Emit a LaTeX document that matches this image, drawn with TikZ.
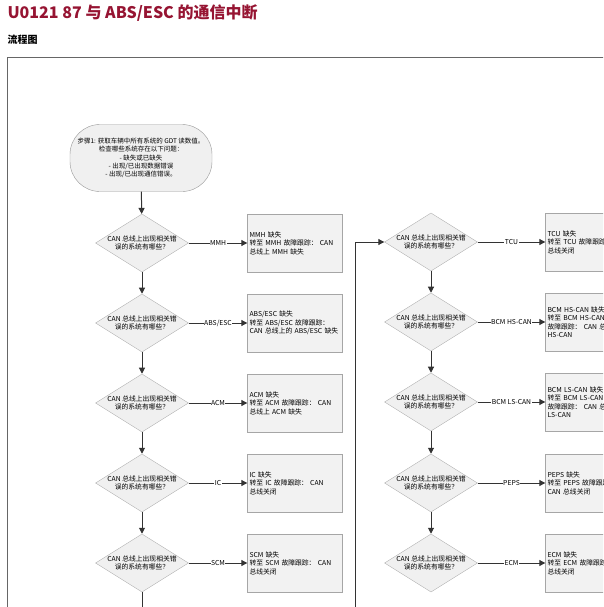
\documentclass[tikz,border=0pt]{standalone}
\usepackage{fontspec}
\setmainfont{Noto Sans CJK SC}
\usetikzlibrary{shapes.geometric,arrows.meta}
\definecolor{titlered}{RGB}{150,20,50}
\begin{document}
\begin{tikzpicture}[x=1pt,y=-1pt,
  dec/.style={diamond,draw=black!30,fill=black!6,minimum width=93pt,minimum height=58pt,inner sep=0pt,align=center,font=\fontsize{6.8}{8.5}\selectfont,aspect=1.6},
  res/.style={rectangle,draw=black!35,fill=black!5,minimum width=95pt,minimum height=58pt,text width=91pt,align=left,font=\fontsize{6.8}{8.5}\selectfont,inner sep=2pt},
  arr/.style={draw=black!80,line width=1pt,-{Triangle[length=6pt,width=6pt]}},
  lab/.style={fill=white,inner sep=0.5pt,font=\fontsize{6.8}{8}\selectfont}]
\useasboundingbox (0,0) rectangle (603,607);
\begin{scope}
\clip (0,0) rectangle (603,607);
\node[anchor=west,text=titlered,font=\bfseries\fontsize{16}{18}\selectfont] (title) at (4,13) {U0121 87 与 ABS/ESC 的通信中断};
\node[anchor=west,font=\bfseries\fontsize{10}{12}\selectfont] (sub) at (4,40) {流程图};
\draw[black!60,line width=0.6pt] (7,620) -- (7,57) -- (620,57);
\node[draw=black!40,fill=black!6,rounded corners=30pt,minimum width=142pt,minimum height=67pt,align=center,font=\fontsize{6.5}{8.3}\selectfont] (start) at (141,158) {步骤1: 获取车辆中所有系统的 GDT 读数值。\\检查哪些系统存在以下问题：\\- 缺失或已缺失\\- 出现/已出现数据错误\\- 出现/已出现通信错误。};
\foreach \i/\y/\m/\t in {1/243/MMH/{MMH 缺失\\转至 MMH 故障跟踪： CAN 总线上 MMH 缺失},
  2/323/ABS\slash ESC/{ABS/ESC 缺失\\转至 ABS/ESC 故障跟踪：\\CAN 总线上的 ABS/ESC 缺失},
  3/403/ACM/{ACM 缺失\\转至 ACM 故障跟踪： CAN 总线上 ACM 缺失},
  4/483/IC/{IC 缺失\\转至 IC 故障跟踪： CAN 总线关闭},
  5/563/SCM/{SCM 缺失\\转至 SCM 故障跟踪： CAN 总线关闭}}{
  \node[dec] (d\i) at (142,\y) {CAN 总线上出现相关错\\误的系统有哪些？};
  \node[res] (b\i) at (295,\y) {\t};
  \draw[arr] (d\i) -- node[lab]{\m} (b\i);
}
\foreach \i/\y/\m/\t in {1/242/TCU/{TCU 缺失\\转至 TCU 故障跟踪： CAN 总线关闭},
  2/322/BCM HS-CAN/{BCM HS-CAN 缺失\\转至 BCM HS-CAN 故障跟踪： CAN 总线上 BCM HS-CAN},
  3/402/BCM LS-CAN/{BCM LS-CAN 缺失\\转至 BCM LS-CAN 故障跟踪： CAN 总线上 BCM LS-CAN},
  4/483/PEPS/{PEPS 缺失\\转至 PEPS 故障跟踪：\\CAN 总线关闭},
  5/563/ECM/{ECM 缺失\\转至 ECM 故障跟踪： CAN 总线关闭}}{
  \node[dec] (e\i) at (431,\y) {CAN 总线上出现相关错\\误的系统有哪些？};
  \node[res] (c\i) at (593,\y) {\t};
  \draw[arr] (e\i) -- node[lab]{\m} (c\i);
}
\draw[arr] (start) -- (d1);
\draw[arr] (d1) -- (d2);
\draw[arr] (d2) -- (d3);
\draw[arr] (d3) -- (d4);
\draw[arr] (d4) -- (d5);
\coordinate (lb) at (142,620);
\draw[draw=black!80,line width=1pt] (d5) -- (lb);
\draw[arr] (e1) -- (e2);
\draw[arr] (e2) -- (e3);
\draw[arr] (e3) -- (e4);
\draw[arr] (e4) -- (e5);
\coordinate (lp) at (355,620);
\draw[arr] (lp) |- (e1);
\end{scope}
\end{tikzpicture}
\end{document}
